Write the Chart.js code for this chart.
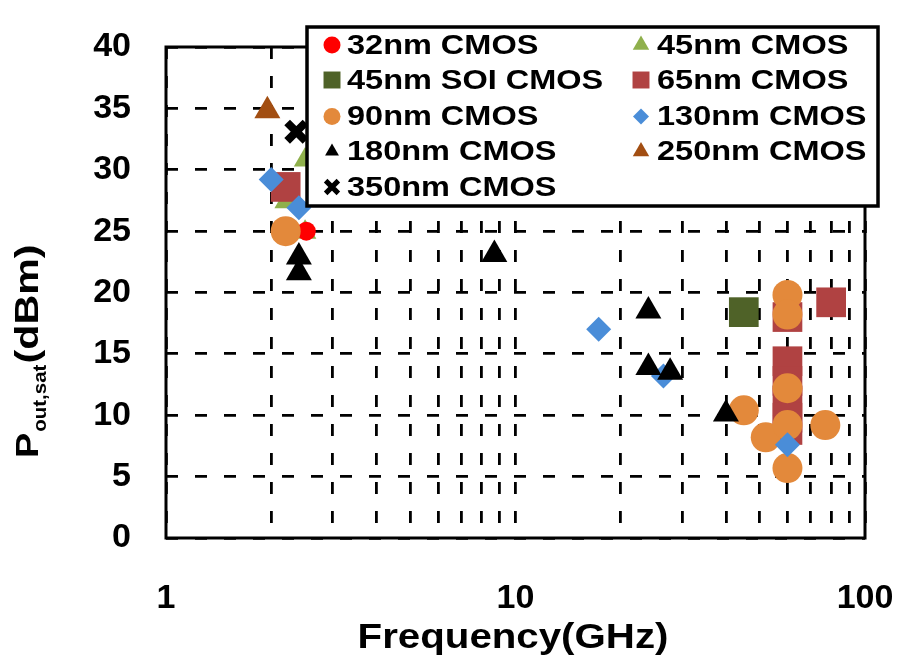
<!DOCTYPE html>
<html>
<head>
<meta charset="utf-8">
<script src="https://cdn.jsdelivr.net/npm/chart.js@4.4.0/dist/chart.umd.min.js"></script>
<style>
html, body { margin: 0; padding: 0; background: #fff; }
#wrap { width: 924px; height: 660px; }
</style>
</head>
<body>
<div id="wrap"><canvas id="grafico" width="924" height="660"></canvas></div>
<script>
// series names (legend order)
const seriesNames = [
    '32nm CMOS', '45nm CMOS', '45nm SOI CMOS', '65nm CMOS', '90nm CMOS',
    '130nm CMOS', '180nm CMOS', '250nm CMOS', '350nm CMOS'
];

// [frequency GHz, Pout,sat dBm]
const cmos32 = [[2.52, 25]];
const cmos45 = [[2.5, 30.8], [2.2, 27.4], [2.5, 24.9]];
const soi45 = [[45, 18.4]];
const cmos65 = [[2.2, 28.6], [60, 18.0], [60, 14.4], [60, 12.8], [60, 11.2], [60, 9.8], [60, 8.8], [80, 19.2]];
const cmos90 = [[2.2, 25], [45, 10.4], [52, 8.2], [60, 19.8], [60, 18.2], [60, 12.2], [60, 9.2], [60, 5.7], [77, 9.2]];
const cmos130 = [[2.0, 29.2], [2.4, 26.9], [17.3, 17.0], [26.5, 13.2], [60, 7.6]];
const cmos180 = [[2.4, 22.9], [2.4, 21.6], [8.7, 23.1], [24, 18.5], [24, 13.9], [27.7, 13.5], [40, 10.1]];
const cmos250 = [[1.95, 34.8]];
const cmos350 = [[2.36, 33.1]];

const seriesData = [cmos32, cmos45, soi45, cmos65, cmos90, cmos130, cmos180, cmos250, cmos350];

// frequency grid values (log axis)
const freqTicks = [1, 2, 3, 4, 5, 6, 7, 8, 9, 10, 20, 30, 40, 50, 60, 70, 80, 90, 100];
const yTicksStep = 5;

// styles
const cores = ['#ff0000', '#8fb04c', '#4f6228', '#b04242', '#e3893b', '#4a8dd8', '#000000', '#a24e12', '#000000'];
const formas = ['circle', 'triangle', 'rect', 'rect', 'circle', 'rectRot', 'triangle', 'triangle', 'crossRot'];
const raios = [9.5, 13, 21, 21, 15, 12.5, 15, 15, 13];
const raiosLegenda = [8.5, 9.5, 12, 12, 8.5, 8, 8, 9.5, 9];
// drawing layer (higher = on top)
const camadas = [1, 0, 2, 3, 4, 5, 6, 7, 8];

const fonte = '"Liberation Sans", Arial, sans-serif';

function textoEsticado(ctx, texto, x, y, sx) {
    ctx.save();
    ctx.translate(x, y);
    ctx.scale(sx, 1);
    ctx.fillText(texto, 0, 0);
    ctx.restore();
    return ctx.measureText(texto).width * sx;
}

const moldura = {
    id: 'moldura',
    afterDraw(chart) {
        const ctx = chart.ctx;
        const a = chart.chartArea;

        // plot frame
        ctx.save();
        ctx.strokeStyle = '#000';
        ctx.lineWidth = 3;
        ctx.setLineDash([]);
        ctx.strokeRect(a.left, a.top, a.right - a.left, a.bottom - a.top);

        // axis titles
        ctx.fillStyle = '#000';
        ctx.textBaseline = 'alphabetic';
        ctx.textAlign = 'left';
        ctx.font = 'bold 35px ' + fonte;
        const wx = ctx.measureText('Frequency(GHz)').width * 1.15;
        textoEsticado(ctx, 'Frequency(GHz)', 513 - wx / 2, 648, 1.15);

        ctx.save();
        ctx.translate(38, 458);
        ctx.rotate(-Math.PI / 2);
        let px = 0;
        ctx.font = 'bold 32px ' + fonte;
        px += textoEsticado(ctx, 'P', px, 0, 1.18);
        ctx.font = 'bold 19px ' + fonte;
        px += textoEsticado(ctx, 'out,sat', px + 1, 8, 1.08) + 2;
        ctx.font = 'bold 33px ' + fonte;
        textoEsticado(ctx, '(dBm)', px, 0, 1.25);
        ctx.restore();

        // legend box
        const lx = 307, ly = 27, lw = 571, lh = 179;
        ctx.fillStyle = '#fff';
        ctx.fillRect(lx, ly, lw, lh);
        ctx.lineWidth = 3.5;
        ctx.strokeRect(lx, ly, lw, lh);

        const colMarca = [332, 641];
        const colTexto = [347, 657];
        const linhas = [45, 80, 116.5, 151.5, 187];
        ctx.font = 'bold 28px ' + fonte;
        ctx.textBaseline = 'middle';
        seriesNames.forEach((nome, i) => {
            const c = i % 2, r = Math.floor(i / 2);
            const y = linhas[r];
            ctx.fillStyle = cores[i];
            ctx.strokeStyle = cores[i];
            ctx.lineWidth = formas[i] === 'crossRot' ? 5 : 1;
            Chart.helpers.drawPoint(ctx, {
                pointStyle: formas[i],
                radius: raiosLegenda[i],
                rotation: 0,
                borderWidth: formas[i] === 'crossRot' ? 5 : 0
            }, colMarca[c], y);
            ctx.fillStyle = '#000';
            textoEsticado(ctx, nome, colTexto[c], y + 1, 1.16);
        });
        ctx.restore();
    }
};

const datasets = seriesNames.map((nome, i) => ({
    label: nome,
    data: seriesData[i].map(p => ({ x: p[0], y: p[1] })),
    pointStyle: formas[i],
    pointRadius: raios[i],
    pointHoverRadius: raios[i],
    backgroundColor: cores[i],
    borderColor: cores[i],
    borderWidth: formas[i] === 'crossRot' ? 8 : 0,
    order: seriesNames.length - camadas[i]
}));

new Chart(document.getElementById('grafico').getContext('2d'), {
    type: 'scatter',
    data: { datasets: datasets },
    options: {
        responsive: false,
        animation: false,
        devicePixelRatio: 1,
        layout: { padding: { left: 0, top: 47, right: 59, bottom: 0 } },
        scales: {
            x: {
                type: 'logarithmic',
                min: 1,
                max: 100,
                afterBuildTicks: (scale) => {
                    scale.ticks = freqTicks.map(v => ({ value: v }));
                },
                afterFit: (scale) => {
                    scale.height = 122;
                    scale.paddingLeft = 0;
                    scale.paddingRight = 0;
                },
                grid: { color: '#000', lineWidth: 2.8, drawTicks: false },
                border: { display: false, dash: [12, 17] },
                ticks: {
                    autoSkip: false,
                    maxRotation: 0,
                    padding: 40,
                    color: '#000',
                    font: { family: fonte, size: 34, weight: 'bold' },
                    callback: (value) => {
                        const l = Math.log10(value);
                        return Math.abs(l - Math.round(l)) < 1e-9 ? String(value) : '';
                    }
                }
            },
            y: {
                min: 0,
                max: 40,
                afterFit: (scale) => {
                    scale.width = 166;
                    scale.paddingTop = 0;
                    scale.paddingBottom = 0;
                },
                grid: { color: '#000', lineWidth: 2.8, drawTicks: false },
                border: { display: false, dash: [12, 17] },
                ticks: {
                    stepSize: yTicksStep,
                    padding: 35,
                    color: '#000',
                    font: { family: fonte, size: 34, weight: 'bold' }
                }
            }
        },
        plugins: {
            legend: { display: false },
            tooltip: { enabled: false }
        }
    },
    plugins: [moldura]
});
</script>
</body>
</html>
